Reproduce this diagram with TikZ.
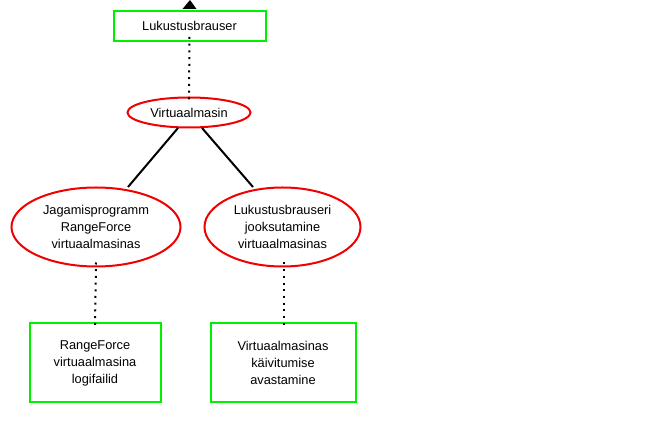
\documentclass[tikz,border=0pt]{standalone}
\usepackage{fontspec}
\setmainfont{Liberation Sans}
\usetikzlibrary{shapes.geometric,arrows.meta}
\begin{document}
\begin{tikzpicture}[x=1pt,y=-1pt,
  every node/.style={font=\fontsize{12.8}{17}\selectfont, align=center, inner sep=0pt},
  gbox/.style={draw={rgb,255:red,0;green,240;blue,0}, line width=2pt, rectangle},
  rell/.style={draw={rgb,255:red,240;green,0;blue,0}, line width=2pt, ellipse},
  solidline/.style={line width=2pt},
  dotline/.style={line width=2pt, dash pattern=on 2pt off 4.7pt}
]
\useasboundingbox[fill=white] (0,0) rectangle (657,427);
\node[gbox, minimum width=152pt, minimum height=30pt] (top) at (189.5,26) {Lukustusbrauser};
\coordinate (tip) at (190,0);
\node[rell, minimum width=123pt, minimum height=30pt] (vm) at (189,112.5) {Virtuaalmasin};
\node[rell, minimum width=169pt, minimum height=79pt] (jag) at (96,227) {Jagamisprogramm\\RangeForce\\virtuaalmasinas};
\node[rell, minimum width=156pt, minimum height=79pt] (luk) at (282.5,227) {Lukustusbrauseri\\jooksutamine\\virtuaalmasinas};
\node[gbox, minimum width=131pt, minimum height=79pt] (logi) at (95,363) {RangeForce\\virtuaalmasina\\logifailid};
\node[gbox, minimum width=145pt, minimum height=79pt] (kai) at (283,363) {Virtuaalmasinas\\käivitumise\\avastamine};
\fill ([xshift=-7pt,yshift=1pt]top.north) -- ([xshift=7pt,yshift=1pt]top.north) -- (tip) -- cycle;
\draw[dotline] ([yshift=5pt]top.south) -- ([yshift=-4pt]vm.north);
\draw[solidline] (178,128) coordinate (a1) -- (128,187) coordinate (a2);
\draw[solidline] (202,128) coordinate (b1) -- (253,187) coordinate (b2);
\draw[dotline] ([yshift=5pt]jag.south) -- ([yshift=-3pt]logi.north);
\draw[dotline] ([xshift=1.5pt,yshift=5pt]luk.south) -- ([xshift=1pt,yshift=-3pt]kai.north);
\end{tikzpicture}
\end{document}
